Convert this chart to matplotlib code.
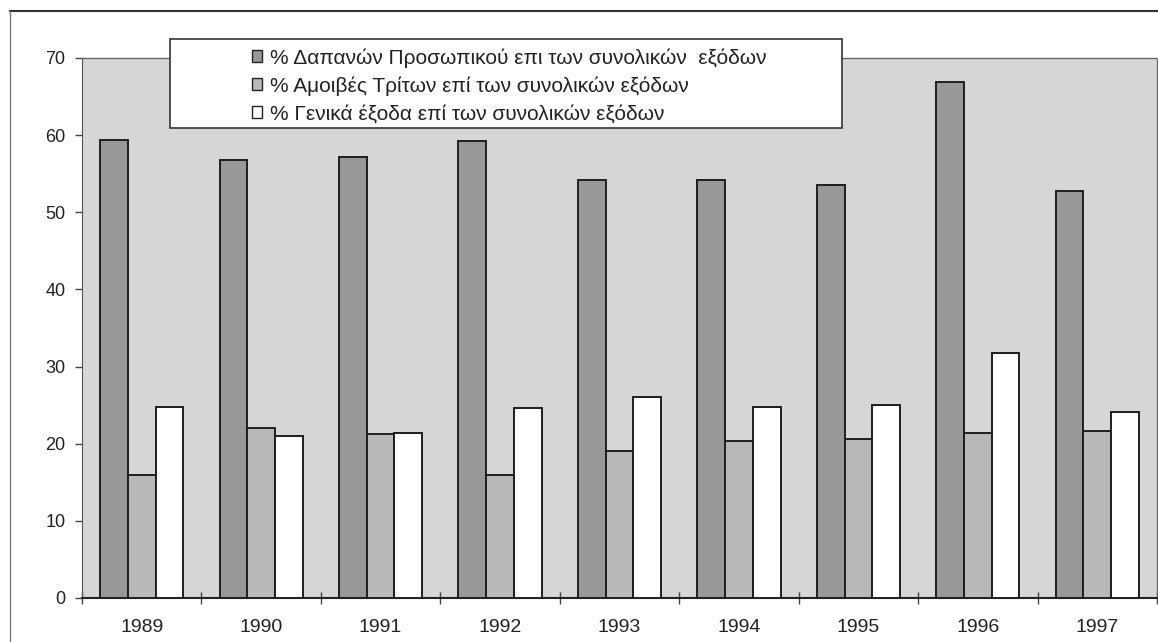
import matplotlib
matplotlib.use("Agg")
import matplotlib.pyplot as plt
import numpy as np
from matplotlib.patches import Rectangle, Patch
from matplotlib.lines import Line2D

years = ["1989", "1990", "1991", "1992", "1993", "1994", "1995", "1996", "1997"]
personnel = [59.4, 56.8, 57.2, 59.3, 54.2, 54.2, 53.6, 66.9, 52.7]
third_party = [15.9, 22.1, 21.3, 15.9, 19.1, 20.3, 20.6, 21.4, 21.7]
general = [24.8, 21.0, 21.4, 24.6, 26.1, 24.8, 25.0, 31.8, 24.1]
labels = ["% Δαπανών Προσωπικού επι των συνολικών  εξόδων",
          "% Αμοιβές Τρίτων επί των συνολικών εξόδων",
          "% Γενικά έξοδα επί των συνολικών εξόδων"]
yticks = [0, 10, 20, 30, 40, 50, 60, 70]

plt.rcParams['font.family'] = ['Liberation Sans', 'DejaVu Sans']

W, H = 1158, 642
fig = plt.figure(figsize=(W / 100, H / 100), dpi=100)
fig.patch.set_facecolor('white')

ax = fig.add_axes([82 / W, 44 / H, (1157 - 82) / W, 540 / H])
ax.set_facecolor('#d6d6d6')

colors = ['#989898', '#b8b8b8', '#ffffff']
x = np.arange(len(years))
bw = 0.232
for i, (vals, c) in enumerate(zip([personnel, third_party, general], colors)):
    ax.bar(x + (i - 1) * bw, vals, width=bw, color=c, edgecolor='#1e1e1e',
           linewidth=1.4, zorder=3)

ax.set_xlim(-0.5, len(years) - 0.5)
ax.set_ylim(0, 70)
ax.set_yticks(yticks)
ax.set_yticklabels([str(v) for v in yticks], fontsize=13, color='#222222')
ax.set_xticks(x)
ax.set_xticklabels(years, fontsize=14, color='#222222')
ax.tick_params(axis='x', length=0, pad=15)
ax.set_xticks(np.arange(len(years) + 1) - 0.5, minor=True)
ax.tick_params(axis='x', which='minor', direction='inout', length=8, width=1, color='#444444')
ax.tick_params(axis='y', direction='out', length=5, width=1, color='#444444', pad=7)

for s in ['top', 'right']:
    ax.spines[s].set_color('#666666')
    ax.spines[s].set_linestyle((0, (2, 1)))
    ax.spines[s].set_linewidth(1.0)
ax.spines['left'].set_color('#555555')
ax.spines['bottom'].set_color('#222222')
ax.spines['bottom'].set_linewidth(1.5)

# outer frame
fig.add_artist(Line2D([10 / W, 1.0], [1 - 11 / H, 1 - 11 / H], color='#333333', lw=1.5))
fig.add_artist(Line2D([10 / W, 10 / W], [0, 1 - 11 / H], color='#777777', lw=1.0))

# legend box
fig.add_artist(Rectangle((170 / W, 1 - 128 / H), 672 / W, 89 / H,
                         facecolor='white', edgecolor='#333333', lw=1.2, zorder=5))
handles = [Patch(facecolor=c, edgecolor='#222222', linewidth=1.0) for c in colors]
leg = fig.legend(handles, labels, loc='upper left',
                 bbox_to_anchor=(252 / W, 1 - 48 / H), frameon=False,
                 fontsize=15, handlelength=0.5, handleheight=0.5,
                 handletextpad=0.34, labelspacing=0.42, borderaxespad=0, borderpad=0)
leg.set_zorder(6)
for t in leg.get_texts():
    t.set_color('#222222')

fig.savefig('out.png', dpi=100)
